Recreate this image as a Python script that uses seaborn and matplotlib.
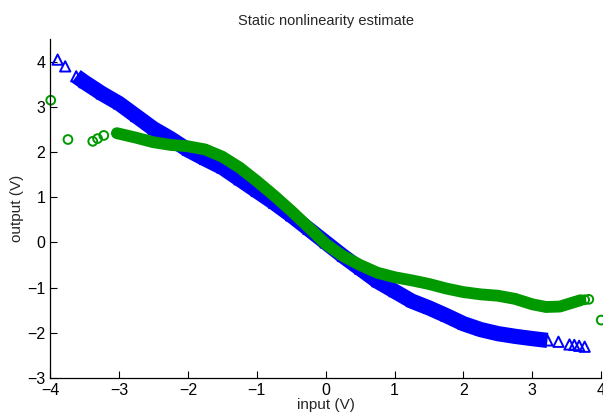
import numpy as np
import pandas as pd
import matplotlib
matplotlib.use("Agg")
import matplotlib.pyplot as plt
import seaborn as sns

# blue series (triangles): dense part
blue_x = [-3.62, -3.5, -3.25, -3.0, -2.75, -2.5, -2.25, -2.0, -1.75, -1.5, -1.25,
          -1.0, -0.75, -0.5, -0.25, 0.0, 0.25, 0.5, 0.75, 1.0, 1.25, 1.5, 1.75,
          2.0, 2.25, 2.5, 2.75, 3.0, 3.22]
blue_y = [3.68, 3.55, 3.3, 3.08, 2.8, 2.52, 2.3, 2.05, 1.85, 1.66, 1.4,
          1.14, 0.88, 0.6, 0.3, 0.0, -0.3, -0.58, -0.86, -1.08, -1.3, -1.45, -1.62,
          -1.8, -1.93, -2.02, -2.08, -2.13, -2.17]
# isolated blue points
blue_sx = [-3.89, -3.78, 3.38, 3.54, 3.61, 3.68, 3.76]
blue_sy = [4.05, 3.9, -2.2, -2.26, -2.27, -2.29, -2.31]

# green series (circles)
green_x = [-3.03, -2.75, -2.5, -2.25, -2.0, -1.75, -1.5, -1.25, -1.0, -0.75,
           -0.5, -0.25, 0.0, 0.25, 0.5, 0.75, 1.0, 1.25, 1.5, 1.75, 2.0, 2.25,
           2.5, 2.75, 3.0, 3.2, 3.4, 3.55, 3.7]
green_y = [2.42, 2.32, 2.22, 2.16, 2.13, 2.06, 1.9, 1.66, 1.36, 1.04,
           0.7, 0.34, -0.03, -0.3, -0.5, -0.67, -0.77, -0.84, -0.92, -1.02, -1.1, -1.15,
           -1.18, -1.25, -1.37, -1.43, -1.42, -1.35, -1.28]
green_sx = [-3.99, -3.74, -3.38, -3.31, -3.22, 3.76, 3.82, 4.0]
green_sy = [3.15, 2.28, 2.24, 2.3, 2.37, -1.27, -1.26, -1.72]

x_ticks = [-4, -3, -2, -1, 0, 1, 2, 3, 4]
y_ticks = [-3, -2, -1, 0, 1, 2, 3, 4]

blue = (0, 0, 1)
green = (0, 0.6, 0)

sns.set_style("ticks")
plt.rcParams['font.family'] = ['Liberation Sans', 'DejaVu Sans']
plt.rcParams['xtick.direction'] = 'in'
plt.rcParams['ytick.direction'] = 'in'

fig = plt.figure(figsize=(6.03, 4.18), dpi=100)
ax = fig.add_axes([0.083, 0.096, 0.914, 0.81])

dfb = pd.DataFrame({"x": blue_x, "y": blue_y})
dfg = pd.DataFrame({"x": green_x, "y": green_y})

# dense marker bands
sns.lineplot(data=dfb, x="x", y="y", sort=False, color=blue, linewidth=11,
             solid_capstyle="butt", ax=ax)
sns.scatterplot(data=dfb, x="x", y="y", marker="^", s=55, facecolors="none",
                edgecolor=blue, linewidth=1.4, ax=ax)
sns.lineplot(data=dfg, x="x", y="y", sort=False, color=green, linewidth=8.5,
             solid_capstyle="round", ax=ax)
sns.scatterplot(data=dfg, x="x", y="y", marker="o", s=40, facecolors="none",
                edgecolor=green, linewidth=1.4, ax=ax)

# isolated markers
sns.scatterplot(x=blue_sx, y=blue_sy, marker="^", s=55, facecolors="none",
                edgecolor=blue, linewidth=1.4, ax=ax)
sns.scatterplot(x=green_sx, y=green_sy, marker="o", s=40, facecolors="none",
                edgecolor=green, linewidth=1.4, ax=ax, clip_on=False)

ax.set_xlim(-4, 4)
ax.set_ylim(-3, 4.5)
ax.set_xticks(x_ticks)
ax.set_yticks(y_ticks)
ax.tick_params(labelsize=11.5, length=5, width=0.8, colors="black")
sns.despine(ax=ax)
for s in ["left", "bottom"]:
    ax.spines[s].set_linewidth(0.9)
    ax.spines[s].set_color("black")

ax.set_title("Static nonlinearity estimate", fontsize=10.5, pad=10)
ax.set_xlabel("input (V)", fontsize=11, labelpad=0)
ax.set_ylabel("output (V)", fontsize=11, labelpad=2)

fig.savefig("out.png", dpi=100)
